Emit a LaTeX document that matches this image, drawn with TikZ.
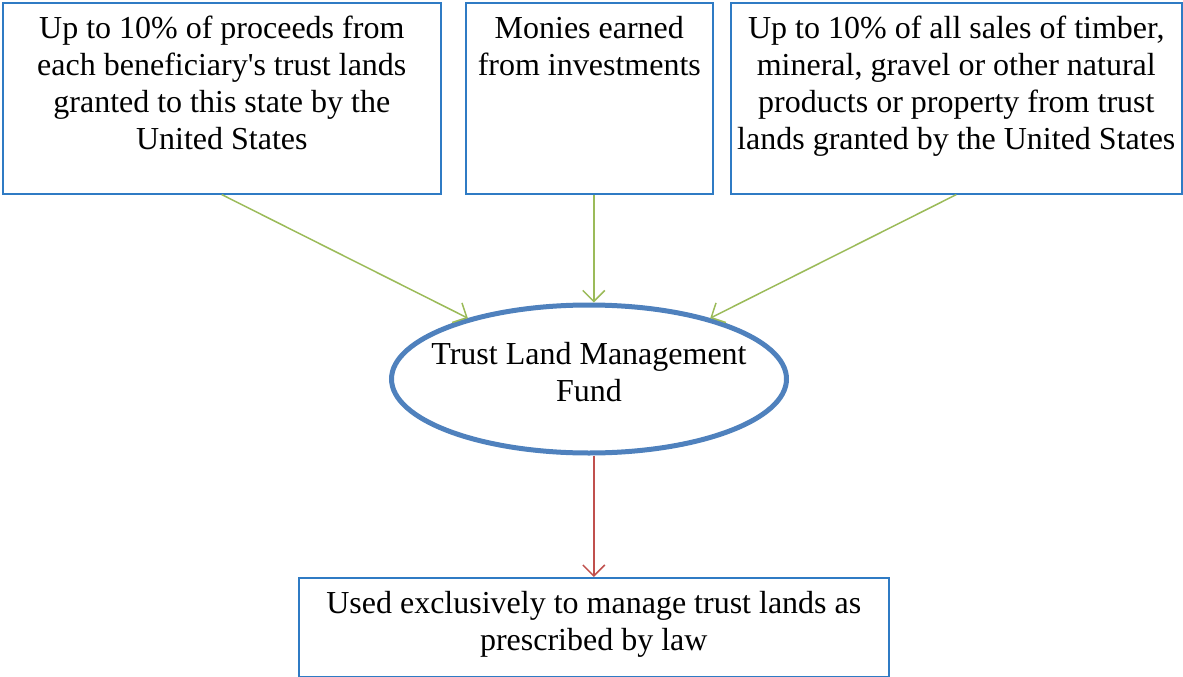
\documentclass[tikz,border=0pt]{standalone}
\usepackage{fontspec}
\setmainfont{Liberation Serif}
\usetikzlibrary{arrows.meta,positioning,shapes.geometric}
\definecolor{boxblue}{HTML}{2F7BC4}
\definecolor{fundblue}{HTML}{4F81BD}
\definecolor{flowgreen}{HTML}{9BBB59}
\definecolor{flowred}{HTML}{C0504D}
% text set from the top of a box, as in a text box
\newcommand{\boxtext}[3]{\parbox[t][#2][t]{#1}{\centering\rule{0pt}{36pt}#3}}

\begin{document}
\begin{tikzpicture}[x=1pt,y=-1pt,
    font=\fontsize{32}{37}\selectfont,
    srcbox/.style={draw=boxblue,line width=1.6pt,inner sep=0pt,anchor=north west},
    fund/.style={ellipse,draw=fundblue,line width=5pt,minimum width=395pt,minimum height=148pt,align=center,inner xsep=-30pt,inner ysep=0pt},
    feed/.style={draw=flowgreen,line width=1.5pt,-{Straight Barb[length=11pt,width=22pt]}},
    spend/.style={draw=flowred,line width=1.5pt,-{Straight Barb[length=11pt,width=22pt]}}]
  \useasboundingbox (0,0) rectangle (1183,677);
  \node[srcbox] (src1) at (2,2) {\boxtext{438pt}{191pt}{Up to 10\% of proceeds from\\each beneficiary\textquotesingle s trust lands\\granted to this state by the\\United States}};
  \node[srcbox] (src2) at (465,2) {\boxtext{247pt}{191pt}{Monies earned\\from investments}};
  \node[srcbox] (src3) at (730,2) {\boxtext{451pt}{191pt}{Up to 10\% of all sales of timber,\\mineral, gravel or other natural\\products or property from trust\\lands granted by the United States}};
  \node[fund] (tlmf) at (589,379) {Trust Land Management\\Fund\rule[-14pt]{0pt}{0pt}};
  \node[srcbox] (use) at (298,577) {\boxtext{590pt}{99pt}{Used exclusively to manage trust lands as\\prescribed by law}};
  \draw[feed] (src1.south) -- (tlmf);
  \draw[feed] (src2.south -| use.north) -- (tlmf.north -| use.north);
  \draw[feed] (src3.south) -- (tlmf);
  \draw[spend] (tlmf.south -| use.north) -- (use.north);
\end{tikzpicture}
\end{document}
